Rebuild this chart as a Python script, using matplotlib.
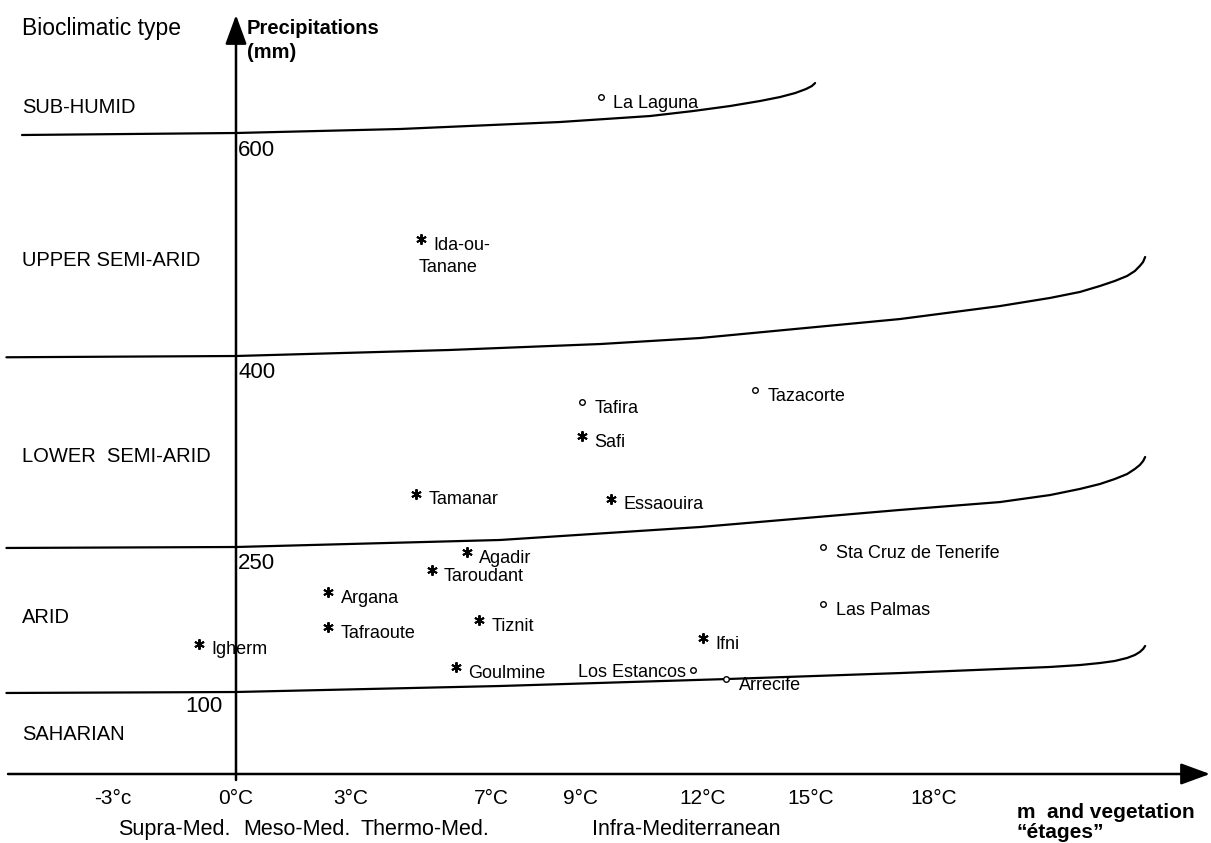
import numpy as np
import matplotlib
matplotlib.use('Agg')
import matplotlib.pyplot as plt
import matplotlib.transforms as mtransforms

plt.rcParams['font.family'] = ['Liberation Sans', 'DejaVu Sans']

W, H = 1211, 843

# ── Axis layout: the original is schematic, tick values are not evenly spaced ──
T_TICKS = [-3, 0, 3, 7, 9, 12, 15, 18]
T_TICKLABELS = ['-3°c', '0°C', '3°C', '7°C', '9°C', '12°C', '15°C', '18°C']
T_PX = [113, 236, 351, 491, 580, 703, 811, 934]          # px from left
P_ANCHOR = [0, 100, 250, 400, 600]
P_PX = [69, 151, 296, 487, 709]                          # px from bottom
Y_TICKS = [600, 400, 250, 100]

# ── Bioclimatic types (label, precipitation level of label) ───────────────────
BIOCLIM = ['SUB-HUMID', 'UPPER SEMI-ARID', 'LOWER  SEMI-ARID', 'ARID', 'SAHARIAN']
BIOCLIM_P = [624, 486, 321, 177, 48]

# ── Vegetation "étages" ───────────────────────────────────────────────────────
ETAGES = ['Supra-Med.', 'Meso-Med.', 'Thermo-Med.', 'Infra-Mediterranean']
ETAGES_T = [-1.5, 1.6, 5.1, 11.6]

# ── Boundary curves between bioclimatic types (°C, mm) ───────────────────────
B600_T = [-5.22, 0, 4.4, 8.55, 10.71, 11.76, 12.75, 13.58, 14.14, 14.56, 14.86, 15.02, 15.1]
B600_P = [599.1, 600.9, 604.5, 610.8, 616.2, 620.7, 625.2, 629.7, 633.3, 636.9, 640.5, 643.2, 645.9]
B400_T = [-5.6, 0, 5.8, 9.5, 11.93, 17.17, 19.61, 20.83, 21.56, 22.05, 22.41, 22.71, 22.9, 23.02, 23.1, 23.15]
B400_P = [399, 400, 405.4, 410.8, 416.2, 433.3, 445.0, 452.3, 457.7, 463.1, 467.6, 472.1, 476.6, 481.1, 484.7, 489.2]
B250_T = [-5.6, 0, 7.2, 11.93, 17.17, 19.61, 20.83, 21.56, 22.05, 22.41, 22.71, 22.9, 23.02, 23.1, 23.15]
B250_P = [249, 250, 255.5, 265.7, 279.1, 285.3, 290.8, 295.6, 299.5, 303.4, 307.3, 311.3, 314.4, 317.5, 320.7]
B100_T = [-5.6, 0, 7.2, 12.65, 17.17, 19.61, 20.83, 21.56, 22.05, 22.41, 22.71, 22.9, 23.02, 23.1, 23.15]
B100_P = [98.8, 100, 106.2, 113.4, 119.6, 123.8, 125.9, 127.9, 130.0, 132.1, 135.2, 138.3, 141.4, 144.5, 147.6]

# ── Stations ──────────────────────────────────────────────────────────────────
STATIONS = ['La Laguna', 'Ida-ou-', 'Tafira', 'Tazacorte', 'Safi', 'Tamanar',
            'Essaouira', 'Agadir', 'Taroudant', 'Sta Cruz de Tenerife', 'Argana',
            'Las Palmas', 'Tafraoute', 'Tiznit', 'Igherm', 'Ifni', 'Goulmine',
            'Los Estancos', 'Arrecife']
TEMP = [9.5, 5.0, 9.05, 13.45, 9.05, 4.85, 9.75, 6.3, 5.3, 15.3, 2.4,
        15.3, 2.4, 6.65, -0.9, 12.0, 6.0, 11.75, 12.65]
PRECIP = [633, 505, 364, 373, 337, 292, 288, 245, 226, 250, 203,
          191, 167, 174, 150, 156, 126, 123, 113]
CANARY = [1, 0, 1, 1, 0, 0, 0, 0, 0, 1, 0, 1, 0, 0, 0, 0, 0, 1, 1]


def piecewise(xp, fp):
    xp = np.asarray(xp, float); fp = np.asarray(fp, float)
    lo_s = (fp[1] - fp[0]) / (xp[1] - xp[0])
    hi_s = (fp[-1] - fp[-2]) / (xp[-1] - xp[-2])
    def f(v):
        v = np.asarray(v, float)
        out = np.interp(v, xp, fp)
        out = np.where(v < xp[0], fp[0] + (v - xp[0]) * lo_s, out)
        out = np.where(v > xp[-1], fp[-1] + (v - xp[-1]) * hi_s, out)
        return out
    return f


tx, tx_inv = piecewise(T_TICKS, T_PX), piecewise(T_PX, T_TICKS)
py, py_inv = piecewise(P_ANCHOR, P_PX), piecewise(P_PX, P_ANCHOR)

fig = plt.figure(figsize=(W / 100, H / 100), dpi=100)
ax = fig.add_axes([0, 0, 1, 1])
ax.set_xscale('function', functions=(tx, tx_inv))
ax.set_yscale('function', functions=(py, py_inv))
ax.axis('off')

# axes with arrows
arrow = dict(arrowstyle='-|>,head_length=0.9,head_width=0.33', mutation_scale=20,
             lw=1.8, color='black', shrinkA=0, shrinkB=0)
ax.annotate('', xy=(0, float(py_inv(828))), xytext=(0, float(py_inv(63))), arrowprops=arrow)
ax.annotate('', xy=(float(tx_inv(1210)), 0), xytext=(float(tx_inv(8)), 0), arrowprops=arrow)

# boundary curves
for bt, bp in [(B600_T, B600_P), (B400_T, B400_P), (B250_T, B250_P), (B100_T, B100_P)]:
    ax.plot(bt, bp, color='black', lw=1.6, solid_joinstyle='round', solid_capstyle='round')

# stations
for name, t, p, c in zip(STATIONS, TEMP, PRECIP, CANARY):
    if c:
        ax.plot(t, p, 'o', ms=4, mfc='white', mec='black', mew=1.0)
    else:
        ax.plot(t, p, marker=(6, 2, 0), ms=7.5, color='black', mew=1.4)
    if name == 'Los Estancos':
        ax.annotate(name, (t, p), xytext=(-4.5, -2), textcoords='offset points',
                    ha='right', va='center', fontsize=13)
    else:
        ax.annotate(name, (t, p), xytext=(9, -4.5), textcoords='offset points',
                    ha='left', va='center', fontsize=13)
    if name == 'Ida-ou-':
        ax.annotate('Tanane', (t, p), xytext=(-2, -20.5), textcoords='offset points',
                    ha='left', va='center', fontsize=13)

# y tick labels
for v in Y_TICKS:
    if v == 100:
        ax.annotate(str(v), (0, v), xytext=(-9.5, -10.5), textcoords='offset points',
                    ha='right', va='center', fontsize=16)
    else:
        ax.annotate(str(v), (0, v), xytext=(1.5, -12), textcoords='offset points',
                    ha='left', va='center', fontsize=16)

# x tick labels and étages
for t, lab in zip(T_TICKS, T_TICKLABELS):
    ax.annotate(lab, (t, 0), xytext=(0, -17.3), textcoords='offset points',
                ha='center', va='center', fontsize=15)
for t, lab in zip(ETAGES_T, ETAGES):
    ax.annotate(lab, (t, 0), xytext=(0, -40.3), textcoords='offset points',
                ha='center', va='center', fontsize=15.5)

# bioclimatic type labels on the left margin
blend = mtransforms.blended_transform_factory(ax.transAxes, ax.transData)
for lab, p in zip(BIOCLIM, BIOCLIM_P):
    ax.text(22 / W, p, lab, transform=blend, ha='left', va='center', fontsize=14.5)

fig.text(22 / W, 1 - 28 / H, 'Bioclimatic type', ha='left', va='center', fontsize=16.5)
fig.text(247 / W, 1 - 28 / H, 'Precipitations', ha='left', va='center',
         fontsize=14.5, fontweight='bold')
fig.text(247 / W, 1 - 53 / H, '(mm)', ha='left', va='center',
         fontsize=14.5, fontweight='bold')
fig.text(1017 / W, 1 - 813 / H, 'm  and vegetation', ha='left', va='center',
         fontsize=15, fontweight='bold')
fig.text(1017 / W, 1 - 832 / H, '“étages”', ha='left', va='center',
         fontsize=15, fontweight='bold')

ax.set_xlim(float(tx_inv(0)), float(tx_inv(W)))
ax.set_ylim(float(py_inv(0)), float(py_inv(H)))

fig.savefig('out.png', dpi=100)
